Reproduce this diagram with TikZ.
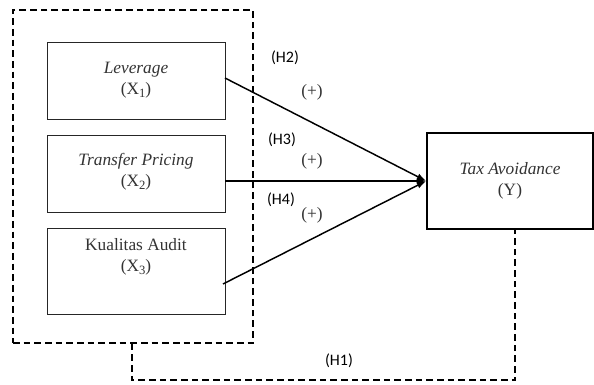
\documentclass[tikz,border=0pt]{standalone}
\usepackage{fontspec}
\setmainfont{Liberation Serif}
\newfontfamily\lblfont{Carlito}
\usetikzlibrary{arrows.meta}
\newcommand{\subidx}[1]{\raisebox{-2.2pt}{\fontsize{9.5}{10}\selectfont #1}}
\begin{document}
\begin{tikzpicture}[x=0.75pt,y=-0.75pt,
  varbox/.style={draw, line width=0.6pt, draw=black!85, minimum width=178*0.75pt, inner sep=0pt},
  ybox/.style={draw, line width=1.3pt, minimum width=166*0.75pt, minimum height=96*0.75pt, inner sep=0pt},
  vartext/.style={align=center, font=\fontsize{13}{16}\selectfont, text=black!80, inner sep=0pt},
  hlabel/.style={font=\lblfont\fontsize{12}{14}\selectfont, inner sep=0pt},
  plus/.style={font=\fontsize{13}{15}\selectfont, text=black!80, inner sep=0pt},
  group/.style={draw, line width=1.2pt, dash pattern=on 5pt off 3pt},
  path/.style={line width=1.1pt, -{Latex[length=7pt,width=5pt]}}]
\useasboundingbox (0,0) rectangle (594,385);
% outer dashed group
\node[group, minimum width=240*0.75pt, minimum height=333*0.75pt, inner sep=0pt] (grp) at (133,176.5) {};
% variable boxes
\node[varbox, minimum height=77*0.75pt] (x1) at (136,80.5) {};
\node[vartext] (x1t) at (136,80) {\textit{Leverage}\\(X\subidx{1})};
\node[varbox, minimum height=77*0.75pt] (x2) at (136,173.5) {};
\node[vartext] (x2t) at (136,172) {\textit{Transfer Pricing}\\(X\subidx{2})};
\node[varbox, minimum height=86*0.75pt] (x3) at (136,271) {};
\node[vartext] (x3t) at (136,257) {Kualitas Audit\\(X\subidx{3})};
\node[ybox] (y) at (510,181) {};
\node[vartext] (yt) at (510,181) {\textit{Tax Avoidance}\\(Y)};
% arrows
\coordinate (a1) at (225,78);
\coordinate (a3) at (223,284);
\draw[path] (a1) -- (y.west);
\draw[path] (x2.east |- y.west) -- (y.west);
\draw[path] (a3) -- (y.west);
% H1 dashed connector
\coordinate (h1a) at (132,380);
\coordinate (h1b) at (515,380);
\draw[group] (grp.south -| h1a) -- (h1a) -- (h1b) -- (y.south -| h1b);
% labels
\node[hlabel] (lh2) at (285,58) {(H2)};
\node[plus] (p2) at (312,92) {(+)};
\node[hlabel] (lh3) at (282,140) {(H3)};
\node[plus] (p3) at (312,161) {(+)};
\node[hlabel] (lh4) at (281,200) {(H4)};
\node[plus] (p4) at (312,215) {(+)};
\node[hlabel] (lh1) at (339,361) {(H1)};
\end{tikzpicture}
\end{document}
